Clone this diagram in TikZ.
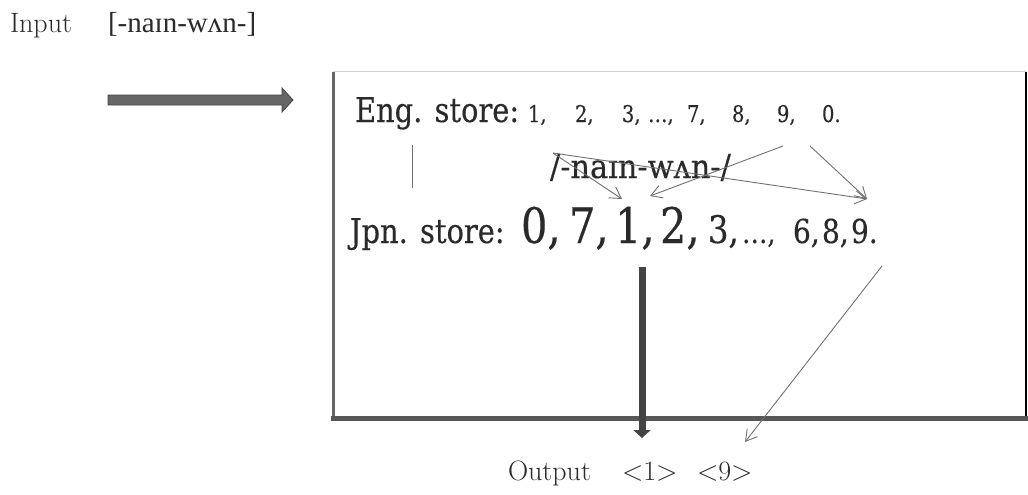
\documentclass[tikz,border=0pt]{standalone}
\usepackage{fontspec}
\usetikzlibrary{arrows.meta}
\newfontfamily\boxfont[FakeStretch=0.85,FakeBold=0.3]{DejaVu Serif}
\newfontfamily\slabfont[FakeStretch=0.92,FakeBold=0.4]{DejaVu Serif}
\newfontfamily\ipafont{Liberation Serif}
\definecolor{thinline}{HTML}{707070}
\definecolor{blockfill}{HTML}{666666}
\definecolor{blockedge}{HTML}{444444}
\definecolor{textdark}{HTML}{2A2A2A}
\begin{document}
\begin{tikzpicture}[x=1pt,y=-1pt,
  lbl/.style={inner sep=0pt,outer sep=0pt,anchor=base west,text=textdark},
  outer/.style={lbl,font=\fontsize{28}{30}\selectfont},
  engtxt/.style={lbl,font=\boxfont\fontsize{34}{36}\selectfont},
  engdig/.style={lbl,font=\boxfont\fontsize{23}{25}\selectfont},
  jpndig/.style={lbl,font=\boxfont\fontsize{#1}{#1}\selectfont},
  thinarrow/.style={draw=thinline,line width=0.9pt,-{Straight Barb[length=11pt,width=13pt,line width=0.9pt]}},
  thinline/.style={draw=thinline,line width=0.9pt}]
\useasboundingbox (0,0) rectangle (1028,495);
% top label
\node[outer] (input) at (10,33) {Input};
\node[lbl,font=\ipafont\fontsize{29}{31}\selectfont] (ipa) at (108,33) {[-naɪn-wʌn-]};
% right block arrow
\filldraw[fill=blockfill,draw=blockedge,line width=0.8pt]
  (108,95) -- (282,95) -- (282,88) -- (293,100) -- (282,112) -- (282,105) -- (108,105) -- cycle;
% box
\draw[gray!35,line width=1pt] (333,72) -- (1026,72);
\draw[draw=blockfill,line width=3pt] (333,72) -- (333,418);
\draw[black,line width=1.5pt] (1026,72) -- (1026,418);
\draw[draw=blockedge!90,line width=5pt] (331,418) -- (1028,418);
% English store
\node[engtxt] (eng) at (355,122) {Eng. store:};
\node[engdig] (e1) at (528,122) {1,};
\node[engdig] (e2) at (575,122) {2,};
\node[engdig] (e3) at (622,122) {3,};
\node[engdig] (edots) at (648,122) {\dots,};
\node[engdig] (e7) at (687,122) {7,};
\node[engdig] (e8) at (732,122) {8,};
\node[engdig] (e9) at (777,122) {9,};
\node[engdig] (e0) at (822,122) {0.};
% phonological form
\node[lbl,font=\slabfont\fontsize{33}{35}\selectfont] (phon) at (550,178) {/-naɪn-wʌn-/};
% vertical link
\coordinate (vtop) at (412,145);
\coordinate (vbot) at (412,188);
\draw[thinline] (vtop) -- (vbot);
% Japanese store
\node[engtxt] (jpn) at (350,243) {Jpn. store:};
\node[jpndig=49] (j0) at (521,243) {0,};
\node[jpndig=49] (j7) at (569,243) {7,};
\node[jpndig=49] (j1) at (615,243) {1,};
\node[jpndig=49] (j2) at (660,243) {2,};
\node[jpndig=38] (j3) at (708,243) {3,};
\node[jpndig=30] (jdots) at (742,243) {\dots,};
\node[jpndig=33] (j6) at (793,243) {6,};
\node[jpndig=33] (j8) at (822,243) {8,};
\node[jpndig=33] (j9) at (851,243) {9.};
% thin arrows
\coordinate (slashstart) at (553,153);
\coordinate (oneleft) at (622,199);
\coordinate (oneright) at (650,196);
\coordinate (ninetop) at (867,199);
\coordinate (e9bot) at (783,146);
\coordinate (e0bot) at (810,146);
\coordinate (j9bot) at (882,266);
\coordinate (outnine) at (745,442);
\draw[thinarrow] (slashstart) -- (oneleft);
\draw[thinarrow] (slashstart) -- (ninetop);
\draw[thinarrow] (e9bot) -- (oneright);
\draw[thinarrow] (e0bot) -- (ninetop);
\draw[thinarrow] (j9bot) -- (outnine);
% thick down arrow
\coordinate (downstart) at (642,267);
\coordinate (downend) at (642,438);
\draw[draw=blockedge,line width=7pt,-{Triangle[width=17pt,length=8pt]}] (downstart) -- (downend);
% output
\node[outer] (output) at (508,480) {Output};
\node[outer] (out1) at (622,480) {<1>};
\node[outer] (out9) at (697,480) {<9>};
\end{tikzpicture}
\end{document}
